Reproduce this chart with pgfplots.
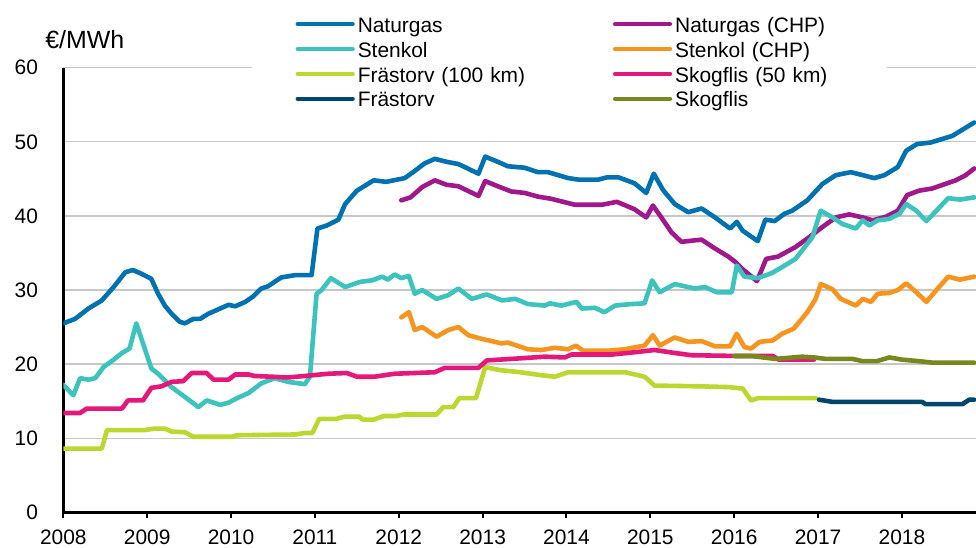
\documentclass[border=0pt]{standalone}
\usepackage{fontspec}
\setmainfont{Liberation Sans}
\usepackage{pgfplots}
\pgfplotsset{compat=1.18}
\definecolor{cNG}{RGB}{0,114,178}
\definecolor{cNGc}{RGB}{160,24,140}
\definecolor{cSK}{RGB}{60,195,190}
\definecolor{cSKc}{RGB}{247,148,30}
\definecolor{cFT}{RGB}{190,214,48}
\definecolor{cSF}{RGB}{228,24,122}
\definecolor{cFTb}{RGB}{0,70,110}
\definecolor{cSFb}{RGB}{120,135,30}
\begin{document}
\fontsize{10.5}{12.6}\selectfont
\begin{tikzpicture}[x=1bp,y=1bp]
\useasboundingbox (0,0) rectangle (488,273.5);
\begin{axis}[
  at={(31.65bp,17.35bp)}, anchor=south west,
  scale only axis, width=456.35bp, height=222.3bp,
  xmin=2008, xmax=2018.882, ymin=0, ymax=60,
  axis x line*=bottom, axis y line*=left,
  xtick pos=bottom, ytick pos=left,
  axis line style={black, line width=1.2bp},
  xtick={2008,2009,...,2018}, ytick={0,10,...,60},
  x tick style={black, line width=1bp}, xtick align=outside, major tick length=3bp,
  y tick style={draw=none},
  ymajorgrids, major grid style={color=black!22, line width=0.65bp},
  /pgf/number format/1000 sep={}, /pgf/number format/assume math mode=true,
  tick label style={font=\fontsize{10.5}{12.6}\selectfont},
  yticklabel style={xshift=-9bp},
  xticklabel style={yshift=-2.3bp},
  every axis plot/.append style={line width=2.3bp, line join=round, line cap=round},
  legend columns=2,
  legend image code/.code={\path (-21.5bp,0bp); \draw[#1, line width=2.1bp, line cap=round] (0bp,1.6bp) -- (27.5bp,1.6bp);},
  legend style={at={(axis description cs:0.2067,1.1144)}, anchor=north west,
    fill=white, draw=none, inner sep=0pt, row sep=2.45bp,
    font=\fontsize{10.5}{12.6}\selectfont,
    nodes={inner sep=0pt, text width=106bp, align=left, text height=7.5bp, text depth=2.5bp},
    /tikz/every odd column/.append style={column sep=1.5bp}},
]
% Naturgas
\addplot[cNG] coordinates {(2008.00,25.5)(2008.14,26.1)(2008.30,27.5)(2008.46,28.6)(2008.60,30.4)(2008.74,32.4)(2008.83,32.7)(2008.93,32.2)(2009.05,31.5)(2009.13,29.5)(2009.21,27.9)(2009.29,26.8)(2009.39,25.7)(2009.45,25.5)(2009.55,26.1)(2009.63,26.1)(2009.73,26.8)(2009.85,27.4)(2009.97,28.0)(2010.05,27.8)(2010.17,28.4)(2010.26,29.1)(2010.36,30.2)(2010.44,30.5)(2010.60,31.7)(2010.76,32.0)(2010.96,32.0)(2011.03,38.3)(2011.14,38.7)(2011.28,39.5)(2011.36,41.6)(2011.50,43.4)(2011.70,44.8)(2011.85,44.6)(2012.07,45.1)(2012.17,45.9)(2012.31,47.1)(2012.43,47.7)(2012.57,47.3)(2012.71,47.0)(2012.95,45.7)(2013.03,48.0)(2013.18,47.3)(2013.30,46.7)(2013.50,46.5)(2013.66,45.9)(2013.78,45.9)(2014.02,45.1)(2014.14,44.9)(2014.38,44.9)(2014.48,45.2)(2014.62,45.2)(2014.81,44.4)(2014.95,43.1)(2015.04,45.7)(2015.15,43.5)(2015.29,41.6)(2015.45,40.5)(2015.61,41.0)(2015.77,39.8)(2015.95,38.3)(2016.03,39.2)(2016.10,38.0)(2016.28,36.6)(2016.37,39.5)(2016.48,39.3)(2016.60,40.3)(2016.69,40.7)(2016.87,42.1)(2017.05,44.3)(2017.21,45.5)(2017.39,45.9)(2017.53,45.5)(2017.67,45.1)(2017.79,45.5)(2017.95,46.6)(2018.05,48.8)(2018.18,49.7)(2018.34,49.9)(2018.60,50.8)(2018.86,52.6)};
\addlegendentry{Naturgas}
% Naturgas (CHP)
\addplot[cNGc] coordinates {(2012.03,42.1)(2012.14,42.5)(2012.28,43.9)(2012.43,44.8)(2012.57,44.2)(2012.71,44.0)(2012.95,42.7)(2013.03,44.7)(2013.18,44.0)(2013.34,43.3)(2013.50,43.1)(2013.66,42.6)(2013.82,42.3)(2014.10,41.5)(2014.42,41.5)(2014.60,41.9)(2014.81,40.9)(2014.95,39.8)(2015.03,41.4)(2015.13,39.8)(2015.25,37.8)(2015.37,36.5)(2015.61,36.8)(2015.77,35.6)(2015.93,34.5)(2016.01,33.8)(2016.09,32.9)(2016.27,31.2)(2016.38,34.2)(2016.52,34.5)(2016.60,35.0)(2016.73,35.8)(2016.89,37.1)(2017.05,38.5)(2017.21,39.8)(2017.37,40.2)(2017.53,39.8)(2017.65,39.4)(2017.81,39.9)(2017.95,40.7)(2018.06,42.8)(2018.20,43.4)(2018.36,43.7)(2018.64,44.8)(2018.76,45.5)(2018.86,46.4)};
\addlegendentry{Naturgas (CHP)}
% Stenkol
\addplot[cSK] coordinates {(2008.00,17.2)(2008.12,15.8)(2008.20,18.1)(2008.30,17.9)(2008.38,18.1)(2008.48,19.6)(2008.60,20.6)(2008.70,21.5)(2008.79,22.1)(2008.87,25.5)(2008.95,22.8)(2009.05,19.4)(2009.13,18.7)(2009.29,16.9)(2009.47,15.4)(2009.61,14.2)(2009.71,15.1)(2009.87,14.5)(2009.97,14.8)(2010.07,15.4)(2010.21,16.1)(2010.36,17.4)(2010.52,18.1)(2010.68,17.6)(2010.88,17.3)(2010.94,18.3)(2011.02,29.5)(2011.08,30.0)(2011.19,31.6)(2011.36,30.4)(2011.54,31.1)(2011.68,31.3)(2011.80,31.8)(2011.87,31.4)(2011.95,32.1)(2012.03,31.6)(2012.12,31.9)(2012.19,29.5)(2012.28,30.0)(2012.45,28.8)(2012.59,29.3)(2012.71,30.2)(2012.87,28.8)(2013.05,29.4)(2013.23,28.6)(2013.39,28.8)(2013.54,28.1)(2013.74,27.9)(2013.80,28.2)(2013.94,27.9)(2014.12,28.4)(2014.18,27.5)(2014.34,27.6)(2014.45,27.0)(2014.58,27.9)(2014.77,28.1)(2014.93,28.2)(2015.02,31.3)(2015.11,29.7)(2015.29,30.8)(2015.53,30.2)(2015.65,30.4)(2015.79,29.7)(2015.97,29.7)(2016.03,33.3)(2016.12,31.8)(2016.28,31.6)(2016.45,32.3)(2016.60,33.3)(2016.73,34.2)(2016.93,37.1)(2017.03,40.7)(2017.17,39.8)(2017.29,38.9)(2017.45,38.3)(2017.53,39.4)(2017.61,38.7)(2017.71,39.4)(2017.85,39.6)(2017.97,40.3)(2018.05,41.6)(2018.17,40.7)(2018.29,39.3)(2018.41,40.7)(2018.55,42.4)(2018.69,42.2)(2018.86,42.5)};
\addlegendentry{Stenkol}
% Stenkol (CHP)
\addplot[cSKc] coordinates {(2012.03,26.3)(2012.12,27.0)(2012.19,24.6)(2012.28,25.0)(2012.45,23.7)(2012.59,24.6)(2012.71,25.0)(2012.83,23.9)(2012.99,23.4)(2013.15,23.0)(2013.22,22.8)(2013.30,22.9)(2013.54,22.0)(2013.70,21.9)(2013.86,22.2)(2014.02,22.0)(2014.11,22.5)(2014.20,21.8)(2014.49,21.8)(2014.69,22.0)(2014.93,22.5)(2015.03,23.9)(2015.11,22.5)(2015.29,23.6)(2015.45,23.0)(2015.61,23.1)(2015.77,22.4)(2015.95,22.4)(2016.03,24.1)(2016.12,22.3)(2016.20,22.1)(2016.30,23.0)(2016.46,23.2)(2016.57,24.1)(2016.71,24.8)(2016.87,27.0)(2016.97,28.8)(2017.03,30.8)(2017.17,30.1)(2017.27,28.8)(2017.45,27.9)(2017.53,28.8)(2017.63,28.4)(2017.71,29.5)(2017.85,29.6)(2017.95,30.0)(2018.05,30.9)(2018.17,29.7)(2018.29,28.4)(2018.41,30.0)(2018.55,31.8)(2018.69,31.4)(2018.86,31.8)};
\addlegendentry{Stenkol (CHP)}
% Frästorv (100 km)
\addplot[cFT] coordinates {(2008.00,8.6)(2008.46,8.6)(2008.52,11.1)(2008.97,11.1)(2009.09,11.3)(2009.21,11.3)(2009.29,10.9)(2009.45,10.8)(2009.55,10.2)(2010.01,10.2)(2010.07,10.4)(2010.76,10.5)(2010.88,10.7)(2010.97,10.7)(2011.05,12.6)(2011.25,12.6)(2011.35,12.9)(2011.53,12.9)(2011.57,12.5)(2011.70,12.5)(2011.82,13.0)(2011.97,13.0)(2012.06,13.2)(2012.45,13.2)(2012.53,14.2)(2012.65,14.2)(2012.72,15.4)(2012.92,15.4)(2013.03,19.6)(2013.20,19.2)(2013.45,18.9)(2013.70,18.5)(2013.86,18.3)(2014.02,18.9)(2014.70,18.9)(2014.93,18.3)(2015.05,17.1)(2015.60,17.0)(2015.93,16.9)(2016.10,16.7)(2016.20,15.1)(2016.28,15.4)(2016.97,15.4)};
\addlegendentry{Frästorv (100 km)}
% Skogflis (50 km)
\addplot[cSF] coordinates {(2008.00,13.4)(2008.20,13.4)(2008.28,14.0)(2008.70,14.0)(2008.77,15.1)(2008.95,15.1)(2009.05,16.8)(2009.17,17.0)(2009.29,17.6)(2009.43,17.7)(2009.53,18.8)(2009.71,18.8)(2009.79,17.9)(2009.97,17.9)(2010.05,18.6)(2010.21,18.6)(2010.28,18.4)(2010.68,18.2)(2010.88,18.4)(2011.16,18.7)(2011.38,18.8)(2011.50,18.3)(2011.71,18.3)(2011.95,18.7)(2012.43,18.9)(2012.55,19.5)(2012.95,19.5)(2013.05,20.5)(2013.34,20.7)(2013.74,21.0)(2013.98,20.9)(2014.06,21.3)(2014.55,21.3)(2014.81,21.6)(2015.05,21.9)(2015.29,21.5)(2015.49,21.2)(2016.01,21.1)(2016.46,21.1)(2016.53,20.6)(2016.95,20.6)};
\addlegendentry{Skogflis (50 km)}
% Frästorv
\addplot[cFTb] coordinates {(2017.01,15.2)(2017.17,14.9)(2018.24,14.9)(2018.28,14.6)(2018.72,14.6)(2018.80,15.2)(2018.86,15.2)};
\addlegendentry{Frästorv}
% Skogflis
\addplot[cSFb] coordinates {(2016.00,21.1)(2016.20,21.1)(2016.49,20.7)(2016.81,21.0)(2016.95,20.9)(2017.09,20.7)(2017.41,20.7)(2017.53,20.4)(2017.70,20.4)(2017.85,20.9)(2018.00,20.6)(2018.20,20.4)(2018.36,20.2)(2018.86,20.2)};
\addlegendentry{Skogflis}
\end{axis}
\node[anchor=west, inner sep=0pt, font=\fontsize{12.5}{15}\selectfont] at (22.5,253.5) {€/MWh};
\end{tikzpicture}
\end{document}
